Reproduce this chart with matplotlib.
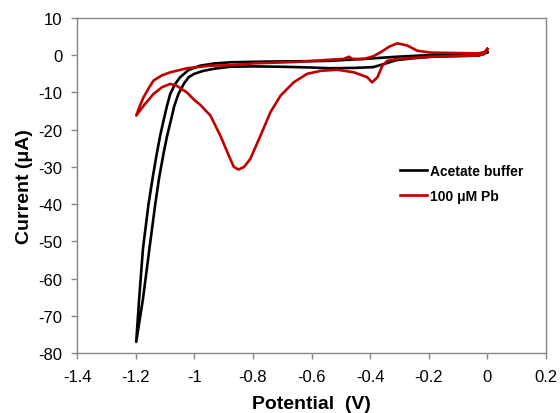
import matplotlib
matplotlib.use("Agg")
import matplotlib.pyplot as plt

plt.rcParams['font.family'] = ['Liberation Sans', 'DejaVu Sans']

# Acetate buffer CV (potential V, current uA) as a closed loop
acetate_v = [0.0, -0.03, -0.1, -0.19, -0.25, -0.31, -0.35, -0.39, -0.45, -0.535, -0.6, -0.7, -0.8,
             -0.877, -0.93, -0.969, -1.0, -1.019, -1.035, -1.054, -1.068, -1.080, -1.093, -1.105,
             -1.12, -1.133, -1.153, -1.175, -1.198,
             -1.188, -1.175, -1.156, -1.142, -1.128, -1.116, -1.105, -1.093, -1.082, -1.065, -1.048,
             -1.02, -0.98, -0.93, -0.877, -0.75, -0.6, -0.535, -0.421, -0.307, -0.193, -0.034, 0.0]
acetate_i = [0.8, -0.1, -0.2, -0.4, -0.8, -1.3, -2.3, -3.2, -3.4, -3.5, -3.3, -3.1, -3.0,
             -3.1, -3.6, -4.2, -5.0, -5.9, -7.6, -10.4, -13.6, -17.6, -21.8, -26.5,
             -33.0, -40, -52, -65.5, -77,
             -65.5, -52, -40, -33.0, -26.5, -21.5, -17.6, -13.6, -10.4, -7.7, -5.9,
             -4.0, -2.8, -2.2, -1.9, -1.7, -1.6, -1.5, -1.0, -0.4, 0.05, 0.3, 0.8]

# 100 uM Pb CV
pb_v = [0.0, -0.01, -0.034, -0.19, -0.25, -0.307, -0.341, -0.358, -0.375, -0.393, -0.41, -0.455,
        -0.512, -0.569, -0.615, -0.661, -0.706, -0.74, -0.774, -0.809, -0.83, -0.849, -0.865,
        -0.877, -0.911, -0.945, -0.98, -1.0, -1.025, -1.06, -1.082, -1.11, -1.139, -1.17, -1.198,
        -1.185, -1.173, -1.155, -1.139, -1.11, -1.082, -1.025, -0.945, -0.877, -0.8, -0.65, -0.535,
        -0.49, -0.472, -0.461, -0.421, -0.39, -0.364, -0.335, -0.307, -0.273, -0.239, -0.193,
        -0.034, -0.01, 0.0]
pb_i = [1.7, 0.3, -0.1, -0.4, -0.7, -1.0, -1.5, -2.8, -5.9, -7.3, -5.9, -4.6,
        -3.9, -4.2, -5.0, -7.3, -10.9, -15.3, -21.6, -27.9, -30.0, -30.7, -30.0,
        -27.9, -21.6, -16.2, -13.3, -12.0, -10.0, -8.2, -7.7, -8.6, -10.4, -13.3, -16.2,
        -13.5, -11.3, -8.8, -6.8, -5.4, -4.6, -3.5, -2.8, -2.7, -2.2, -1.8, -1.2,
        -1.0, -0.4, -1.0, -1.0, -0.3, 0.8, 2.3, 3.2, 2.6, 1.2, 0.7,
        0.5, 0.8, 1.7]

series_labels = ['Acetate buffer', '100 μM Pb']
x_ticks = [-1.4, -1.2, -1.0, -0.8, -0.6, -0.4, -0.2, 0.0, 0.2]
x_tick_labels = ['-1.4', '-1.2', '-1', '-0.8', '-0.6', '-0.4', '-0.2', '0', '0.2']
y_ticks = [10, 0, -10, -20, -30, -40, -50, -60, -70, -80]

fig = plt.figure(figsize=(5.6, 4.14), dpi=100)
ax = fig.add_axes([77/560, 60/414, (546-77)/560, (354-19)/414])

ax.plot(acetate_v, acetate_i, color='black', lw=1.9, label=series_labels[0], solid_joinstyle='round')
ax.plot(pb_v, pb_i, color='#C00000', lw=1.9, label=series_labels[1], solid_joinstyle='round')

ax.set_xlim(-1.4, 0.2)
ax.set_ylim(-80, 10)
ax.set_xticks(x_ticks)
ax.set_xticklabels(x_tick_labels)
ax.set_yticks(y_ticks)
ax.set_yticklabels([str(t) for t in y_ticks])

spine_color = '#868686'
for s in ax.spines.values():
    s.set_color(spine_color)
    s.set_linewidth(1.0)
ax.tick_params(direction='out', length=4.5, width=1.0, color=spine_color,
               labelsize=12, labelcolor='black')
ax.tick_params(axis='x', pad=7)
ax.tick_params(axis='y', pad=6)

ax.set_xlabel('Potential  (V)', fontsize=14, fontweight='bold', labelpad=8)
ax.set_ylabel('Current (μA)', fontsize=14, fontweight='bold', labelpad=4)

leg = ax.legend(loc='upper left', bbox_to_anchor=(400/560, 1 - 165/414),
                bbox_transform=fig.transFigure, frameon=False, borderpad=0,
                borderaxespad=0, handlelength=1.95, handletextpad=0.2,
                labelspacing=0.8, prop={'size': 10, 'weight': 'bold'})

fig.savefig('out.png', dpi=100)
